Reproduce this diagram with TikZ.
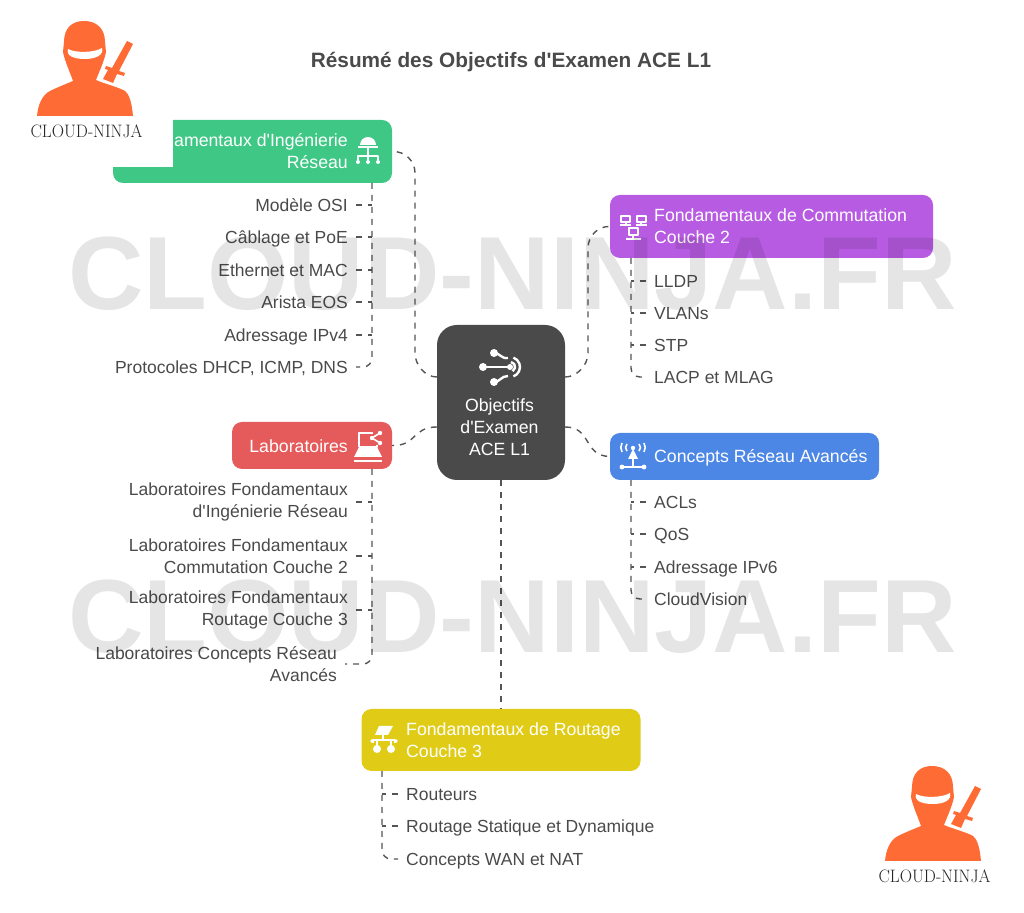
\documentclass[tikz,border=0pt]{standalone}
\usepackage{fontspec}
\usepackage{amsmath}
\usetikzlibrary{positioning}
\newfontfamily\bodyfont{Liberation Sans}
\definecolor{inkgrey}{HTML}{4A4A4A}
\definecolor{linkgrey}{HTML}{555555}
\definecolor{ninjaorange}{HTML}{FF6B35}
\definecolor{boxgreen}{HTML}{3EC785}
\definecolor{boxpurple}{HTML}{B85BE3}
\definecolor{boxblue}{HTML}{4D87E6}
\definecolor{boxred}{HTML}{E55A5A}
\definecolor{boxyellow}{HTML}{E0CC17}
\tikzset{
  box/.style={rounded corners=10bp,inner sep=0pt,draw=none},
  boxtext/.style={text=white,inner sep=0pt,font=\bodyfont\fontsize{17.7bp}{21.7bp}\selectfont},
  boxline/.style={boxtext,text height=12.5bp,text depth=0bp},
  item/.style={text=inkgrey,inner xsep=8bp,inner ysep=0pt,font=\bodyfont\fontsize{17.5bp}{21.7bp}\selectfont},
  itemline/.style={item,text height=12.5bp,text depth=0bp},
  link/.style={draw=linkgrey,line width=1.4bp,dash pattern=on 6bp off 6bp},
  icon/.style={draw=white,line width=1.6bp,x=1bp,y=-1bp},
  watermark/.style={text=black,text opacity=.1,inner sep=0pt,text height=75bp,text depth=0bp,transform shape,xscale=1.005,font=\bodyfont\bfseries\fontsize{104bp}{104bp}\selectfont},
  pics/ninja/.style={code={
    \begin{scope}[x=1bp,y=-1bp]
    \fill [ninjaorange] (127,41) -- (133,44) -- (119,71) -- (125,73) -- (124,76) -- (117,74) -- (113,83) -- (103,79) -- (108,70) -- (105,69) -- (106,66) -- (112,68) -- cycle;
    \fill [ninjaorange] (37,116) ..controls (38,105) and (42,95) .. (50,91) ..controls (58,87) and (66,84) .. (73,81) ..controls (70,72) and (65,62) .. (63,52) -- (64,42) ..controls (64,28) and (72,21) .. (84,21) ..controls (96,21) and (105,28) .. (105,42) -- (106,52) ..controls (104,62) and (99,72) .. (96,80) ..controls (105,84) and (118,87) .. (125,91) ..controls (130,95) and (132,105) .. (133,116) -- cycle;
    \fill [white] (68,49) ..controls (75,53) and (94,53) .. (102,48) ..controls (104,55) and (96,59) .. (85,59) ..controls (74,59) and (66,56) .. (68,49) -- cycle;
    \node (name) at (86.5,131) [text=black!85,inner sep=0pt,transform shape,xscale=.95,font=\fontsize{18bp}{18bp}\selectfont] {CLOUD-NINJA};
    \end{scope}
  }},
  pics/iconcenter/.style={code={
    \begin{scope}[icon,line width=2.4bp]
    \fill [white] (-7,-14) circle (4bp) (-7,15) circle (4bp) (-18,0) circle (4bp) (9,0) circle (3bp);
    \draw (-18,0) -- (9,0);
    \draw (-7,-14) ..controls (-1,-14) and (0,-8) .. (7,-9);
    \draw (-7,15) ..controls (-1,15) and (0,9) .. (7,9);
    \draw (12.4,9.4) arc (-70:70:10bp);
    \draw (10,-5) arc (80:-60:5bp);
    \end{scope}
  }},
  pics/icongreen/.style={code={
    \begin{scope}[icon]
    \fill [white] (-8,-6) arc (180:0:8bp) -- cycle;
    \draw (-10,-4) -- (10,-4);
    \draw (0,-3) -- (0,10);
    \draw (-10,10) -- (-10,5) -- (10,5) -- (10,10);
    \fill [white] (-10,11) circle (2bp) (0,11) circle (2bp) (10,11) circle (2bp);
    \end{scope}
  }},
  pics/iconpurple/.style={code={
    \begin{scope}[icon,line width=1.3bp]
    \draw (-12,-10) rectangle (-3,-4);
    \draw (4,-10) rectangle (13,-4);
    \draw (-4,2) rectangle (5,9);
    \draw (-13,-1) -- (-2,-1) (3,-1) -- (14,-1) (-7,13) -- (8,13);
    \draw (-7,-4) -- (-7,-1) (8,-4) -- (8,-1) (0,9) -- (0,13);
    \end{scope}
  }},
  pics/iconblue/.style={code={
    \begin{scope}[icon]
    \fill [white] (0,-7) -- (5,3) -- (-5,3) -- cycle;
    \fill [white] (0,-8) circle (2.2bp);
    \draw (-11,11) -- (11,11) (0,3) -- (0,11);
    \fill [white] (-11,11) circle (2.4bp) (11,11) circle (2.4bp);
    \draw (-6,-12) arc (135:225:5bp) (6,-12) arc (45:-45:5bp);
    \draw (-11,-13) arc (150:210:9bp) (11,-13) arc (30:-30:9bp);
    \end{scope}
  }},
  pics/iconred/.style={code={
    \begin{scope}[icon]
    \draw (5,-13) -- (-9,-13) -- (-9,1);
    \draw (-9,1) -- (9,1) -- (9,-1);
    \fill [white] (-14,11) -- (-9,1) -- (9,1) -- (14,11) -- cycle;
    \draw (-14,15) -- (14,15);
    \fill [white] (12,-13) circle (2.2bp) (12,-3) circle (2.2bp) (4,-8) circle (2.2bp);
    \draw (12,-13) -- (4,-8) -- (12,-3);
    \end{scope}
  }},
  pics/iconyellow/.style={code={
    \begin{scope}[icon]
    \fill [white] (-5,-13) -- (9,-13) -- (4,-4) -- (-9,-4) -- cycle;
    \draw (-1,-4) -- (-1,0) (-11,4) -- (-11,1) -- (11,1) -- (11,4);
    \draw (-7,0) -- (-7,7) (7,0) -- (7,7);
    \fill [white] (-7,10) circle (4bp) (7,10) circle (4bp);
    \fill [white] (-12,2) circle (1.8bp) (12,2) circle (1.8bp);
    \end{scope}
  }},
}
\begin{document}
\begin{tikzpicture}[>=latex,line join=bevel,]
\useasboundingbox (0bp,0bp) rectangle (1024bp,913bp);
%%
\node (node_title) at (511bp,851bp) [text=inkgrey,font=\bodyfont\bfseries\fontsize{20.8bp}{24bp}\selectfont] {Résumé des Objectifs d'Examen ACE L1};
  \node (node_center) at (501bp,510.5bp) [box,rounded corners=20bp,fill=inkgrey,minimum width=128bp,minimum height=155bp] {};
  \node (node_green) at (252.5bp,761.5bp) [box,fill=boxgreen,minimum width=279bp,minimum height=63bp] {};
  \node (node_purple) at (771.5bp,686.5bp) [box,fill=boxpurple,minimum width=323bp,minimum height=63bp] {};
  \node (node_blue) at (744.5bp,456.5bp) [box,fill=boxblue,minimum width=269bp,minimum height=47bp] {};
  \node (node_red) at (312bp,467.5bp) [box,fill=boxred,minimum width=160bp,minimum height=47bp] {};
  \node (node_yellow) at (501bp,173bp) [box,fill=boxyellow,minimum width=279bp,minimum height=62bp] {};
  \node (text_center) at (499.5bp,486bp) [boxtext,align=center] {Objectifs\\d'Examen\\ACE L1};
  \node (text_green) at (348bp,762bp) [boxtext,anchor=east,align=right] {Fondamentaux d'Ingénierie\\Réseau};
  \node (text_purple) at (654bp,687bp) [boxtext,anchor=west,align=left] {Fondamentaux de Commutation\\Couche 2};
  \node (text_blue) at (654bp,457bp) [boxline,anchor=west] {Concepts Réseau Avancés};
  \node (text_red) at (348bp,467bp) [boxline,anchor=east] {Laboratoires};
  \node (text_yellow) at (406bp,173bp) [boxtext,anchor=west,align=left] {Fondamentaux de Routage\\Couche 3};
%% green items
  \node (node_osi) at (356bp,708bp) [itemline,anchor=east] {Modèle OSI};
  \node (node_poe) at (356bp,676bp) [itemline,anchor=east] {Câblage et PoE};
  \node (node_mac) at (356bp,643bp) [itemline,anchor=east] {Ethernet et MAC};
  \node (node_eos) at (356bp,611bp) [itemline,anchor=east] {Arista EOS};
  \node (node_ipv4) at (356bp,578bp) [itemline,anchor=east] {Adressage IPv4};
  \node (node_dhcp) at (356bp,546bp) [itemline,anchor=east] {Protocoles DHCP, ICMP, DNS};
%% purple items
  \node (node_lldp) at (646bp,632bp) [itemline,anchor=west] {LLDP};
  \node (node_vlan) at (646bp,600bp) [itemline,anchor=west] {VLANs};
  \node (node_stp) at (646bp,568bp) [itemline,anchor=west] {STP};
  \node (node_lacp) at (646bp,536bp) [itemline,anchor=west] {LACP et MLAG};
%% blue items
  \node (node_acl) at (646bp,411bp) [itemline,anchor=west] {ACLs};
  \node (node_qos) at (646bp,379bp) [itemline,anchor=west] {QoS};
  \node (node_ipv6) at (646bp,346bp) [itemline,anchor=west] {Adressage IPv6};
  \node (node_cvp) at (646bp,314bp) [itemline,anchor=west] {CloudVision};
%% red items
  \node (node_labing) at (356bp,411bp) [item,anchor=east,align=right] {Laboratoires Fondamentaux\\d'Ingénierie Réseau};
  \node (node_labcom) at (356bp,357bp) [item,anchor=east,align=right] {Laboratoires Fondamentaux\\Commutation Couche 2};
  \node (node_labrou) at (356bp,303bp) [item,anchor=east,align=right] {Laboratoires Fondamentaux\\Routage Couche 3};
  \node (node_labadv) at (345bp,249bp) [item,anchor=east,align=right] {Laboratoires Concepts Réseau\\Avancés};
%% yellow items
  \node (node_rout) at (398bp,119bp) [itemline,anchor=west] {Routeurs};
  \node (node_stat) at (398bp,87bp) [itemline,anchor=west] {Routage Statique et Dynamique};
  \node (node_wan) at (398bp,54bp) [itemline,anchor=west] {Concepts WAN et NAT};
%% trunks
  \coordinate (trunk_green) at (372bp,730bp);
  \coordinate (trunk_purple) at (631bp,655bp);
  \coordinate (trunk_blue) at (631bp,433bp);
  \coordinate (trunk_red) at (372bp,444bp);
  \coordinate (trunk_yellow) at (382bp,142bp);
%% center to boxes
  \draw [link] ([yshift=25.5bp]node_center.west) ..controls (425bp,536bp) and (415bp,548bp) .. (415bp,560bp) -- (415bp,740bp) ..controls (415bp,752bp) and (405bp,762bp) .. (node_green.east);
  \draw [link] ([yshift=25.5bp]node_center.east) ..controls (577bp,536bp) and (588bp,548bp) .. (588bp,560bp) -- (588bp,665bp) ..controls (588bp,677bp) and (598bp,687bp) .. (node_purple.west);
  \draw [link] ([yshift=-24.5bp]node_center.east) ..controls (592bp,486bp) and (583bp,457bp) .. (node_blue.west);
  \draw [link] ([yshift=-24.5bp]node_center.west) ..controls (412bp,486bp) and (417bp,467bp) .. (node_red.east);
  \draw [link] (node_center.south) -- (node_yellow.north);
%% trunks to items
  \draw [link,rounded corners=9bp] (trunk_green) |- (node_dhcp.east);
  \draw [link] (node_osi.east) -- (node_osi.east -| trunk_green);
  \draw [link] (node_poe.east) -- (node_poe.east -| trunk_green);
  \draw [link] (node_mac.east) -- (node_mac.east -| trunk_green);
  \draw [link] (node_eos.east) -- (node_eos.east -| trunk_green);
  \draw [link] (node_ipv4.east) -- (node_ipv4.east -| trunk_green);
  \draw [link,rounded corners=9bp] (trunk_purple) |- (node_lacp.west);
  \draw [link] (node_lldp.west) -- (node_lldp.west -| trunk_purple);
  \draw [link] (node_vlan.west) -- (node_vlan.west -| trunk_purple);
  \draw [link] (node_stp.west) -- (node_stp.west -| trunk_purple);
  \draw [link,rounded corners=9bp] (trunk_blue) |- (node_cvp.west);
  \draw [link] (node_acl.west) -- (node_acl.west -| trunk_blue);
  \draw [link] (node_qos.west) -- (node_qos.west -| trunk_blue);
  \draw [link] (node_ipv6.west) -- (node_ipv6.west -| trunk_blue);
  \draw [link,rounded corners=9bp] (trunk_red) |- (node_labadv.east);
  \draw [link] (node_labing.east) -- (node_labing.east -| trunk_red);
  \draw [link] (node_labcom.east) -- (node_labcom.east -| trunk_red);
  \draw [link] (node_labrou.east) -- (node_labrou.east -| trunk_red);
  \draw [link,rounded corners=9bp] (trunk_yellow) |- (node_wan.west);
  \draw [link] (node_rout.west) -- (node_rout.west -| trunk_yellow);
  \draw [link] (node_stat.west) -- (node_stat.west -| trunk_yellow);
%% icons
  \pic at (501bp,546bp) {iconcenter};
  \pic at (368bp,762bp) {icongreen};
  \pic at (633bp,687bp) {iconpurple};
  \pic at (633bp,457bp) {iconblue};
  \pic at (368bp,467bp) {iconred};
  \pic at (384bp,174bp) {iconyellow};
%% watermark and logos
  \node (mark_top) at (512.5bp,640.5bp) [watermark] {CLOUD-NINJA.FR};
  \node (mark_bottom) at (512.5bp,297.5bp) [watermark] {CLOUD-NINJA.FR};
  \fill [white] (0bp,913bp) rectangle (173bp,745.5bp);
  \pic (logo_top) at (0bp,913bp) {ninja};
  \pic (logo_bottom) at (848bp,168bp) {ninja};
%
\end{tikzpicture}
\end{document}
